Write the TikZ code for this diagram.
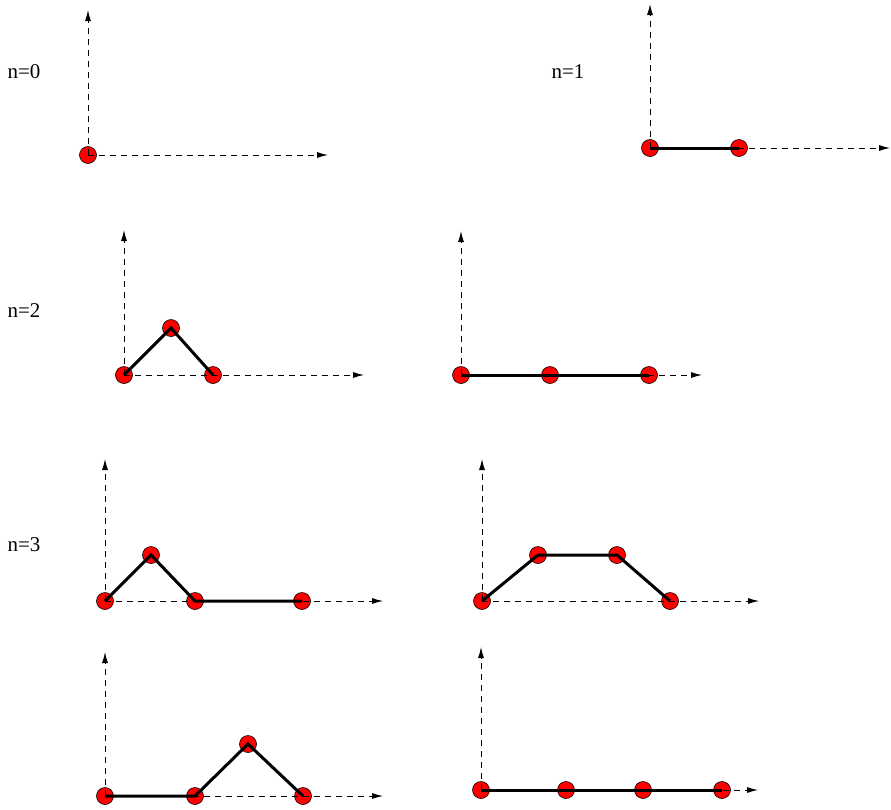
\documentclass[tikz,border=0pt]{standalone}
\usepackage{fontspec}
\setmainfont{Liberation Serif}
\usetikzlibrary{arrows.meta}
\begin{document}
\begin{tikzpicture}[x=1pt,y=-1pt,
  dot/.style={circle,fill=red,draw=black,line width=0.6pt,minimum size=17pt,inner sep=0pt},
  axis/.style={dashed,dash pattern=on 6pt off 5pt,line width=0.9pt,-{Latex[length=11pt,width=6pt]}},
  chain/.style={line width=3pt,line join=miter},
  lbl/.style={font=\fontsize{21}{23}\selectfont,inner sep=0pt}]
\useasboundingbox (0,0) rectangle (891,809);
% labels
\node[lbl] (l0) at (24,72) {n=0};
\node[lbl] (l1) at (568,72) {n=1};
\node[lbl] (l2) at (24,311) {n=2};
\node[lbl] (l3) at (24,545) {n=3};
% n=0
\node[dot] (a0) at (88,155) {};
\coordinate (ay) at (88,10); \coordinate (ax) at (328,155);
% n=1
\node[dot] (b0) at (650,148) {};
\node[dot] (b1) at (739,148) {};
\coordinate (by) at (650,4); \coordinate (bx) at (890,148);
% n=2 left
\node[dot] (c0) at (124,375) {};
\node[dot] (c1) at (171,328) {};
\node[dot] (c2) at (213,375) {};
\coordinate (cy) at (124,230); \coordinate (cx) at (364,375);
% n=2 right
\node[dot] (d0) at (461,375) {};
\node[dot] (d1) at (550,375) {};
\node[dot] (d2) at (649,375) {};
\coordinate (dy) at (461,231); \coordinate (dx) at (702,375);
% n=3 A
\node[dot] (e0) at (105,601) {};
\node[dot] (e1) at (151,555) {};
\node[dot] (e2) at (195,601) {};
\node[dot] (e3) at (302,601) {};
\coordinate (ey) at (105,459); \coordinate (ex) at (383,601);
% n=3 B
\node[dot] (f0) at (482,601) {};
\node[dot] (f1) at (538,555) {};
\node[dot] (f2) at (617,555) {};
\node[dot] (f3) at (670,601) {};
\coordinate (fy) at (482,459); \coordinate (fx) at (759,601);
% n=3 C
\node[dot] (g0) at (105,796) {};
\node[dot] (g1) at (195,796) {};
\node[dot] (g2) at (248,744) {};
\node[dot] (g3) at (303,796) {};
\coordinate (gy) at (105,652); \coordinate (gx) at (383,796);
% n=3 D
\node[dot] (h0) at (481,790) {};
\node[dot] (h1) at (566,790) {};
\node[dot] (h2) at (643,790) {};
\node[dot] (h3) at (722,790) {};
\coordinate (hy) at (481,647); \coordinate (hx) at (758,790);
% axes
\foreach \o/\t in {a0/ay,a0/ax,b0/by,b0/bx,c0/cy,c0/cx,d0/dy,d0/dx,e0/ey,e0/ex,f0/fy,f0/fx,g0/gy,g0/gx,h0/hy,h0/hx}
  \draw[axis] (\o.center) -- (\t);
% chains
\draw[chain] (b0.center) -- (b1.center);
\draw[chain] (c0.center) -- (c1.center) -- (c2.center);
\draw[chain] (d0.center) -- (d1.center) -- (d2.center);
\draw[chain] (e0.center) -- (e1.center) -- (e2.center) -- (e3.center);
\draw[chain] (f0.center) -- (f1.center) -- (f2.center) -- (f3.center);
\draw[chain] (g0.center) -- (g1.center) -- (g2.center) -- (g3.center);
\draw[chain] (h0.center) -- (h1.center) -- (h2.center) -- (h3.center);
\end{tikzpicture}
\end{document}
